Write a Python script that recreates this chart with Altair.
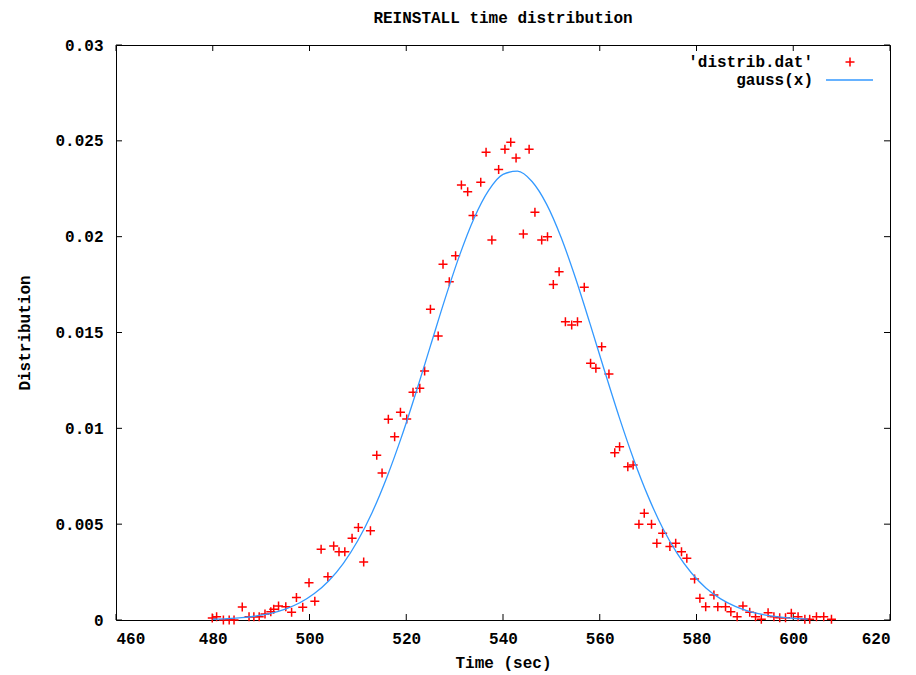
import altair as alt
import pandas as pd

# ---- data ----
time_pts = [479.9, 480.8, 482.2, 483.4, 484.4, 486.1, 487.5, 488.5, 489.6, 490.8,
            492.0, 492.6, 493.6, 495.1, 496.3, 497.3, 498.6, 499.9, 501.1, 502.4,
            503.8, 505.0, 506.1, 507.3, 508.8, 510.1, 511.2, 512.6, 513.9, 515.0,
            516.3, 517.6, 518.8, 520.1, 521.4, 522.8, 523.8, 525.0, 526.6, 527.6,
            528.9, 530.2, 531.4, 532.7, 533.8, 535.4, 536.5, 537.7, 539.1, 540.4,
            541.6, 542.7, 544.2, 545.4, 546.6, 548.0, 549.2, 550.4, 551.6, 552.9,
            554.2, 555.4, 556.8, 558.1, 559.2, 560.4, 561.9, 563.1, 564.1, 565.8,
            566.9, 568.1, 569.2, 570.7, 571.8, 573.0, 574.5, 575.7, 576.9, 578.0,
            579.6, 580.7, 581.9, 583.6, 584.4, 586.0, 587.1, 588.4, 589.6, 591.0,
            592.2, 593.4, 594.8, 596.0, 597.2, 598.4, 599.6, 601.0, 602.4, 603.4,
            604.8, 606.3, 607.9]
dist_pts = [0.0001, 0.00017, 0.0, 0.0, 0.0, 0.00068, 0.00017, 0.00017, 0.00017, 0.00031,
            0.00043, 0.00056, 0.00073, 0.00069, 0.0004, 0.00118, 0.00066, 0.00195, 0.00098, 0.00369,
            0.00226, 0.00386, 0.00356, 0.00356, 0.00426, 0.00482, 0.00303, 0.00466, 0.00859, 0.00767,
            0.01047, 0.00956, 0.01084, 0.01049, 0.01188, 0.01209, 0.01299, 0.01621, 0.01482, 0.01856,
            0.01765, 0.01901, 0.02269, 0.02235, 0.02111, 0.02284, 0.0244, 0.01983, 0.02351, 0.02456,
            0.02492, 0.0241, 0.02014, 0.02456, 0.02127, 0.01983, 0.02, 0.01751, 0.01817, 0.01556,
            0.01539, 0.01556, 0.01736, 0.01339, 0.01313, 0.01426, 0.01283, 0.00873, 0.00904, 0.008,
            0.00809, 0.00499, 0.00557, 0.00499, 0.004, 0.00452, 0.00383, 0.004, 0.00356, 0.00322,
            0.00214, 0.00113, 0.00069, 0.0013, 0.00069, 0.00069, 0.00043, 0.00017, 0.00073, 0.0004,
            0.00017, 0.00004, 0.00038, 0.00017, 0.00012, 0.00012, 0.00035, 0.00017, 0.00004, 0.00004,
            0.00017, 0.00017, 0.00004]

curve_x = [480, 483, 486, 489, 492, 495, 498, 501, 504, 507, 510, 513, 516, 519, 522,
           525, 528, 531, 534, 537, 540, 543, 546, 549, 552, 555, 558, 561, 564, 567,
           570, 573, 576, 579, 582, 585, 588, 591, 594, 597, 600, 603]
curve_y = [0.00004, 0.00007, 0.00012, 0.00021, 0.00035, 0.00057, 0.0009, 0.00138, 0.00205,
           0.00296, 0.00415, 0.00564, 0.00745, 0.00954, 0.01186, 0.0143, 0.01674, 0.01901,
           0.02095, 0.0224, 0.02325, 0.02342, 0.02288, 0.0217, 0.01997, 0.01783, 0.01545,
           0.01299, 0.0106, 0.00839, 0.00645, 0.0048, 0.00348, 0.00244, 0.00166, 0.0011,
           0.00071, 0.00044, 0.00027, 0.00016, 0.00009, 0.00005]

x_ticks = [460, 480, 500, 520, 540, 560, 580, 600, 620]
y_ticks = [0, 0.005, 0.01, 0.015, 0.02, 0.025, 0.03]

legend_labels = ["'distrib.dat'", "gauss(x)"]

FONT = "Liberation Mono"
W, H = 774, 575
RED = "#ff0000"
BLUE = "#3399ff"
PLUS = "M-1,0L1,0M0,-1L0,1"

pts = pd.DataFrame({"t": time_pts, "d": dist_pts})
crv = pd.DataFrame({"t": curve_x, "d": curve_y})
xt = pd.DataFrame({"t": x_ticks})
yt = pd.DataFrame({"d": y_ticks})

x_axis = alt.Axis(values=x_ticks, format="d", grid=False, ticks=False, tickSize=0,
                  domain=False, labelPadding=10, title="Time (sec)", titlePadding=8)
y_axis = alt.Axis(values=y_ticks, format=".3~f", grid=False, ticks=False, tickSize=0,
                  domain=False, labelPadding=13, title="Distribution", titlePadding=22)
xs = alt.Scale(domain=[460, 620], nice=False, zero=False)
ys = alt.Scale(domain=[0, 0.03], nice=False)

X = alt.X("t:Q", scale=xs, axis=x_axis)
Y = alt.Y("d:Q", scale=ys, axis=y_axis)

points = alt.Chart(pts).mark_point(shape=PLUS, filled=False, stroke=RED,
                                   strokeWidth=1.5, size=81, opacity=1).encode(x=X, y=Y)
line = alt.Chart(crv).mark_line(color=BLUE, strokeWidth=1.3,
                                interpolate="monotone").encode(x=X, y=Y)

tick_bottom = alt.Chart(xt).mark_rule(color="black", strokeWidth=1).encode(
    x=X, y=alt.value(H), y2=alt.value(H - 6))
tick_top = alt.Chart(xt).mark_rule(color="black", strokeWidth=1).encode(
    x=X, y=alt.value(0), y2=alt.value(6))
tick_left = alt.Chart(yt).mark_rule(color="black", strokeWidth=1).encode(
    y=Y, x=alt.value(0), x2=alt.value(6))
tick_right = alt.Chart(yt).mark_rule(color="black", strokeWidth=1).encode(
    y=Y, x=alt.value(W), x2=alt.value(W - 6))

leg_text1 = alt.Chart(pd.DataFrame({"l": [legend_labels[0]]})).mark_text(
    align="right", baseline="middle", font=FONT, fontWeight="bold", fontSize=16,
    color="black").encode(text="l:N", x=alt.value(697), y=alt.value(17))
leg_text2 = alt.Chart(pd.DataFrame({"l": [legend_labels[1]]})).mark_text(
    align="right", baseline="middle", font=FONT, fontWeight="bold", fontSize=16,
    color="black").encode(text="l:N", x=alt.value(697), y=alt.value(35))
leg_plus = alt.Chart(pd.DataFrame({"l": [legend_labels[0]]})).mark_point(
    shape=PLUS, filled=False, stroke=RED, strokeWidth=1.5, size=81, opacity=1).encode(
    x=alt.value(734), y=alt.value(17))
leg_line = alt.Chart(pd.DataFrame({"l": [legend_labels[1]]})).mark_rule(
    color=BLUE, strokeWidth=1.3).encode(x=alt.value(710), x2=alt.value(757), y=alt.value(35))

chart = alt.layer(
    tick_bottom, tick_top, tick_left, tick_right,
    points, line,
    leg_text1, leg_text2, leg_plus, leg_line,
).properties(
    width=W, height=H,
    title=alt.TitleParams("REINSTALL time distribution", font=FONT, fontSize=16,
                          fontWeight="bold", color="black", anchor="middle",
                          frame="group", offset=11),
    autosize=alt.AutoSizeParams(type="none"),
    padding={"left": 108, "top": 37, "right": 10, "bottom": 60},
    background="white",
).configure_view(
    stroke="black", strokeWidth=1
).configure_axis(
    labelFont=FONT, labelFontSize=16, labelFontWeight="bold", labelColor="black",
    titleFont=FONT, titleFontSize=16, titleFontWeight="bold", titleColor="black",
)

chart.save("out.html", embed_options={"renderer": "svg", "actions": False})
